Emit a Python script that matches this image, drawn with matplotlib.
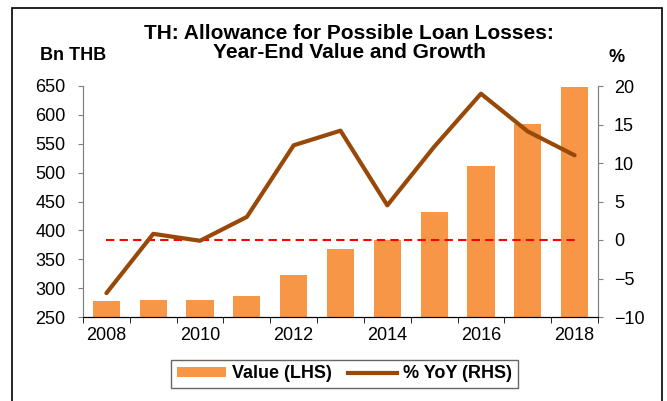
import matplotlib.pyplot as plt
import numpy as np
from matplotlib.lines import Line2D
from matplotlib.patches import Patch, Rectangle

plt.rcParams["font.family"] = ["Liberation Sans", "DejaVu Sans"]

years = [2008, 2009, 2010, 2011, 2012, 2013, 2014, 2015, 2016, 2017, 2018]
value_bn = [277, 279, 279, 287, 322, 368, 383, 431, 512, 584, 649]
yoy_pct = [-6.9, 0.8, -0.1, 3.0, 12.3, 14.2, 4.5, 12.1, 19.0, 14.1, 11.0]

bar_color = "#F79646"
line_color = "#984807"
spine_gray = "#808080"

fig = plt.figure(figsize=(6.67, 4.01), dpi=100)
ax = fig.add_axes([83 / 667, 1 - 317 / 401, (598 - 83) / 667, (317 - 86) / 401])
ax2 = ax.twinx()

x = np.arange(len(years))
ax.bar(x, value_bn, width=0.58, color=bar_color, zorder=2)
ax.set_ylim(250, 650)
ax.set_yticks(np.arange(250, 651, 50))
ax.set_xlim(-0.5, len(years) - 0.5)

ax2.plot(x, yoy_pct, color=line_color, lw=3, solid_capstyle="round", zorder=3)
ax2.plot([x[0], x[-1]], [0, 0], color="red", lw=1.5, ls=(0, (4, 2.5)), zorder=2)
ax2.set_ylim(-10, 20)
ax2.set_yticks(np.arange(-10, 21, 5))

# category axis: ticks at boundaries, labels every other year
ax.set_xticks(np.arange(-0.5, len(years), 1.0), minor=True)
ax.set_xticks(x[::2])
ax.set_xticklabels([str(y) for y in years[::2]])
ax.tick_params(axis="x", which="major", length=0, labelsize=13, pad=7)
ax.tick_params(axis="x", which="minor", length=4, direction="out", color="black")

ax.tick_params(axis="y", length=3.5, direction="out", color=spine_gray,
               labelsize=13, pad=9)
ax2.tick_params(axis="y", length=3.5, direction="out", color=spine_gray,
                labelsize=13, pad=8)

for a in (ax, ax2):
    a.spines["top"].set_visible(False)
    a.spines["left"].set_color(spine_gray)
    a.spines["right"].set_color(spine_gray)
    a.spines["bottom"].set_color("black")

fig.text(349 / 667, 1 - 43 / 401,
         "TH: Allowance for Possible Loan Losses:\nYear-End Value and Growth",
         ha="center", va="center", fontsize=15, fontweight="bold",
         linespacing=1.05)
fig.text(73 / 667, 1 - 55 / 401, "Bn THB", ha="center", va="center",
         fontsize=13, fontweight="bold")
fig.text(617 / 667, 1 - 57 / 401, "%", ha="center", va="center",
         fontsize=13, fontweight="bold")

handles = [Patch(facecolor=bar_color, edgecolor="none"),
           Line2D([0], [0], color=line_color, lw=3)]
leg = fig.legend(handles, ["Value (LHS)", "% YoY (RHS)"], loc="center",
                 bbox_to_anchor=(344.5 / 667, 1 - 374 / 401), ncol=2,
                 frameon=True, fancybox=False, edgecolor="#404040",
                 prop={"weight": "bold", "size": 13}, handlelength=2.7,
                 handleheight=0.45, columnspacing=0.9, handletextpad=0.35,
                 borderpad=0.3, borderaxespad=0)
leg.get_frame().set_linewidth(1.0)

# outer chart border
fig.patches.append(Rectangle((12 / 667, -0.1), (662 - 12) / 667, 1.1 - 8 / 401,
                             transform=fig.transFigure, fill=False,
                             edgecolor="black", lw=1.2))

fig.savefig("out.png", dpi=100)
